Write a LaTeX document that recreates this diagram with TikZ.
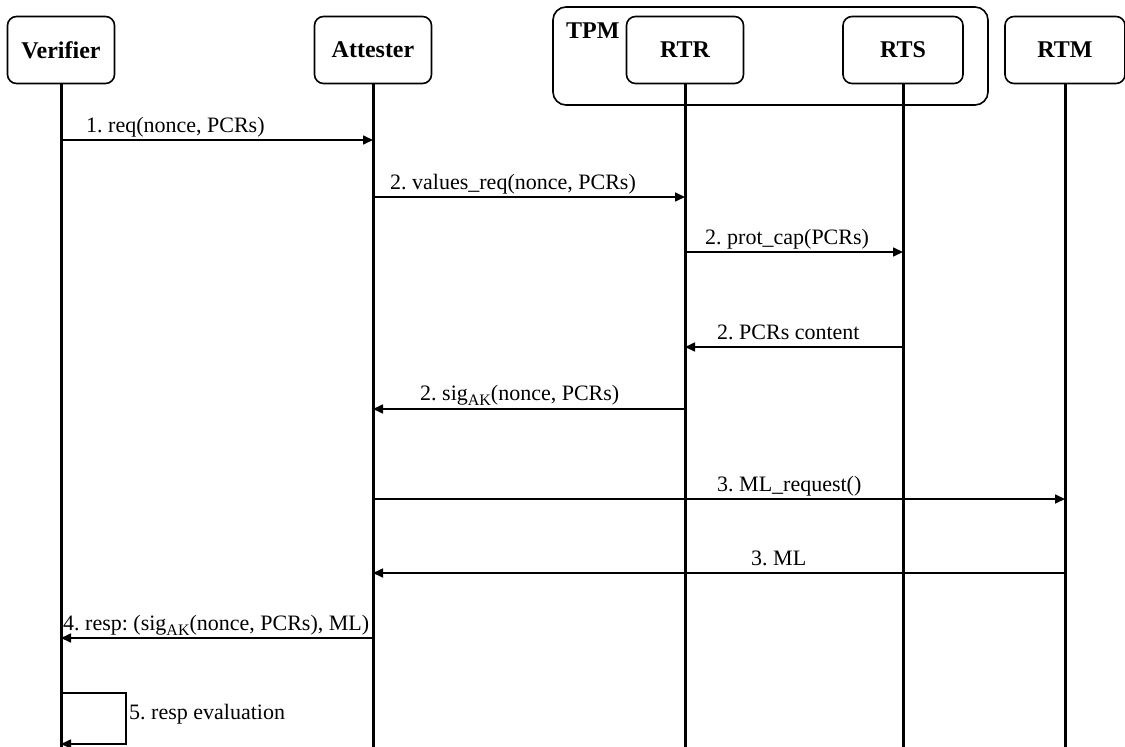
\documentclass[tikz,border=0pt]{standalone}
\usepackage{fontspec}
\setmainfont{Liberation Serif}
\usetikzlibrary{arrows.meta}
% lowered "AK" index used in the signature labels
\newcommand{\akidx}{\raisebox{-5pt}{\fontsize{16}{16}\selectfont AK}}
\frenchspacing
\begin{document}
\begin{tikzpicture}[x=1pt,y=-1pt,
  actor/.style={draw, line width=1.6pt, rounded corners=9pt, minimum height=67pt,
    inner sep=0pt, font=\fontsize{24}{28}\selectfont\bfseries},
  group/.style={draw, line width=1.6pt, rounded corners=13pt, inner sep=0pt},
  lifeline/.style={line width=3pt},
  msg/.style={line width=1.6pt, -{Triangle[length=10pt,width=9pt]}},
  lbl/.style={anchor=base west, inner sep=0pt, font=\fontsize{22}{26}\selectfont}]

\useasboundingbox (0,0) rectangle (1125,747);

% TPM grouping box
\node[group, minimum width=435pt, minimum height=98pt] (tpm) at (770.5,56) {};
\node[anchor=base west, inner sep=0pt, font=\fontsize{24}{28}\selectfont\bfseries] (tpmlabel) at (566,38) {TPM};

% participants
\node[actor, minimum width=107pt] (verifier) at (61,50) {Verifier};
\node[actor, minimum width=117pt] (attester) at (373,50) {Attester};
\node[actor, minimum width=117pt] (rtr) at (685,50) {RTR};
\node[actor, minimum width=120pt] (rts) at (903,50) {RTS};
\node[actor, minimum width=120pt] (rtm) at (1065,50) {RTM};

% lifelines
\coordinate (verifier-end) at (61,747);
\coordinate (attester-end) at (373,747);
\coordinate (rtr-end) at (685,747);
\coordinate (rts-end) at (903,747);
\coordinate (rtm-end) at (1065,747);
\draw[lifeline] (verifier.south) -- (verifier-end);
\draw[lifeline] (attester.south) -- (attester-end);
\draw[lifeline] (rtr.south) -- (rtr-end);
\draw[lifeline] (rts.south) -- (rts-end);
\draw[lifeline] (rtm.south) -- (rtm-end);

% messages
\draw[msg] (verifier |- 0,140) -- (attester |- 0,140);
\node[lbl] (m1) at (86,132) {1. req(nonce, PCRs)};

\draw[msg] (attester |- 0,197) -- (rtr |- 0,197);
\node[lbl] (m2) at (390,189) {2. values\_req(nonce, PCRs)};

\draw[msg] (rtr |- 0,252) -- (rts |- 0,252);
\node[lbl] (m3) at (705,244) {2. prot\_cap(PCRs)};

\draw[msg] (rts |- 0,347) -- (rtr |- 0,347);
\node[lbl] (m4) at (717,339) {2. PCRs content};

\draw[msg] (rtr |- 0,409) -- (attester |- 0,409);
\node[lbl] (m5) at (420,400) {2. sig\akidx(nonce, PCRs)};

\draw[msg] (attester |- 0,499) -- (rtm |- 0,499);
\node[lbl] (m6) at (717,491) {3. ML\_request()};

\draw[msg] (rtm |- 0,573) -- (attester |- 0,573);
\node[lbl] (m7) at (751,565) {3. ML};

\draw[msg] (attester |- 0,638) -- (verifier |- 0,638);
\node[lbl] (m8) at (63,630) {4. resp: (sig\akidx(nonce, PCRs), ML)};

% self message on the verifier
\coordinate (loopcorner) at (126,744);
\draw[msg] (verifier |- 0,693) -| (loopcorner) -- (verifier |- loopcorner);
\node[lbl] (m9) at (129,719) {5. resp evaluation};

\end{tikzpicture}
\end{document}
